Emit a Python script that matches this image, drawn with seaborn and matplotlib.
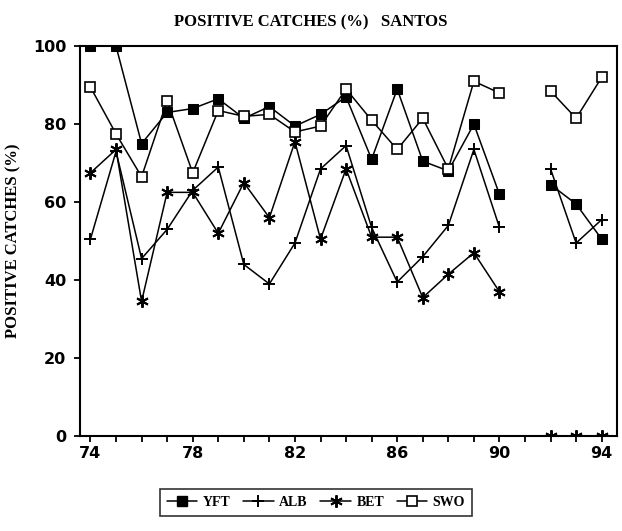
import numpy as np
import pandas as pd
import matplotlib
matplotlib.use("Agg")
import matplotlib.pyplot as plt
import seaborn as sns
from matplotlib.lines import Line2D

# ==========================================
# data (no survey in 1991)
# ==========================================
years = [74, 75, 76, 77, 78, 79, 80, 81, 82, 83, 84, 85, 86, 87, 88, 89, 90, 92, 93, 94]
yft = [100, 100, 75, 83, 84, 86.5, 81.5, 84.5, 79.5, 82.5, 87, 71, 89, 70.5, 68, 80, 62, 64.5, 59.5, 50.5]
alb = [50.5, 73, 45.5, 53, 63, 69, 44, 39, 49.5, 68.5, 74.5, 53.5, 39.5, 46, 54, 73.5, 53.5, 68.5, 49.5, 55.5]
bet = [67.5, 73.5, 34.5, 62.5, 62.5, 52, 65, 56, 75.5, 50.5, 68.5, 51, 51, 35.5, 41.5, 47, 37, 0, 0, 0]
swo = [89.5, 77.5, 66.5, 86, 67.5, 83.5, 82, 82.5, 78, 79.5, 89, 81, 73.5, 81.5, 68.5, 91, 88, 88.5, 81.5, 92]

series_names = ["YFT", "ALB", "BET", "SWO"]
series_vals = [yft, alb, bet, swo]
x_ticks = [74, 78, 82, 86, 90, 94]

# long table, with a segment id so the 1991 gap is not bridged
rows = []
for name, vals in zip(series_names, series_vals):
    for yr, v in zip(years, vals):
        rows.append({"year": yr, "pct": v, "species": name, "seg": 0 if yr <= 90 else 1})
df = pd.DataFrame(rows)

# marker styles per species (open square for SWO)
styles = {
    "YFT": dict(marker="s", markersize=6.5, markerfacecolor="black"),
    "ALB": dict(marker="+", markersize=9, markeredgewidth=1.4),
    "BET": dict(marker=(6, 2, 0), markersize=9, markeredgewidth=1.4),
    "SWO": dict(marker="s", markersize=6.5, markerfacecolor="white", markeredgewidth=1.2),
}

sns.set_style("ticks")
plt.rcParams["font.family"] = ["DejaVu Sans"]
plt.rcParams["text.color"] = "black"
plt.rcParams["axes.labelcolor"] = "black"

fig = plt.figure(figsize=(6.22, 5.31), dpi=100)
ax = fig.add_axes([0.129, 0.179, 0.863, 0.734])

for name in series_names:
    sub = df[df["species"] == name]
    for seg, part in sub.groupby("seg"):
        sns.lineplot(data=part, x="year", y="pct", ax=ax, color="black",
                     linewidth=1.1, markeredgecolor="black", legend=False,
                     **styles[name])

ax.set_xlim(73.6, 94.6)
ax.set_ylim(0, 100)
ax.set_xticks(x_ticks)
ax.set_xticks(range(74, 95), minor=True)
ax.set_yticks([0, 20, 40, 60, 80, 100])
ax.tick_params(axis="both", which="both", direction="out", length=4, width=1.3,
               colors="black", labelcolor="black")
ax.tick_params(axis="y", pad=6)
for lab in ax.get_xticklabels() + ax.get_yticklabels():
    lab.set_fontsize(11.5)
    lab.set_fontweight("bold")
for sp in ax.spines.values():
    sp.set_visible(True)
    sp.set_linewidth(1.5)
    sp.set_color("black")

ax.set_xlabel("")
ax.set_ylabel("POSITIVE CATCHES (%)", fontsize=12, fontweight="bold",
              family="Liberation Serif", labelpad=8, color="black")
fig.text(0.5, 0.958, "POSITIVE CATCHES (%)   SANTOS", ha="center", va="center",
         fontsize=12, fontweight="bold", family="Liberation Serif", color="black")

# legend below the plot
handles = [Line2D([0], [0], color="black", linewidth=1.1, markeredgecolor="black", **styles[n])
           for n in series_names]
leg = fig.legend(handles, series_names, loc="center", bbox_to_anchor=(0.508, 0.053), ncol=4,
                 frameon=True, fancybox=False, edgecolor="black", handlelength=2.2,
                 columnspacing=0.9, handletextpad=0.4, borderpad=0.5,
                 prop={"family": "Liberation Serif", "weight": "bold", "size": 10})
leg.get_frame().set_linewidth(1.2)
for t in leg.get_texts():
    t.set_color("black")

plt.savefig("out.png", dpi=100)
plt.close()
